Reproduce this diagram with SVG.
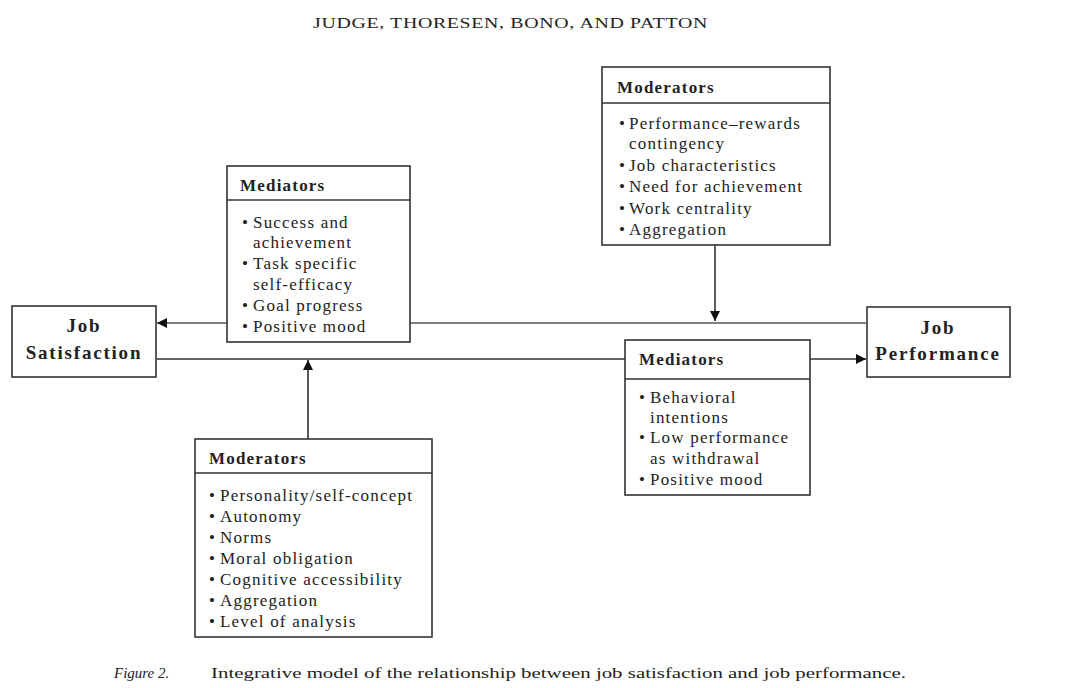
<svg xmlns="http://www.w3.org/2000/svg" width="1077" height="688" viewBox="0 0 1077 688">
  <defs>
    <marker id="arrow" viewBox="0 0 10 10" refX="10" refY="5" markerWidth="10" markerHeight="10" markerUnits="userSpaceOnUse" orient="auto">
      <path d="M0,0 L10,5 L0,10 z" fill="#111"/>
    </marker>
    <style>
      .box { fill: #fff; stroke: #333; stroke-width: 1.6; }
      .sep { stroke: #333; stroke-width: 1.4; }
      .link { fill: none; stroke: #333; stroke-width: 1.6; }
      .link.light { stroke: #555; stroke-width: 1.3; }
      text { font-family: "Liberation Serif", "Times New Roman", serif; fill: #222; }
      .title { font-size: 19px; font-weight: bold; letter-spacing: 1.8px; text-anchor: middle; }
      .head { font-size: 17px; font-weight: bold; letter-spacing: 1.2px; }
      .item { font-size: 17px; letter-spacing: 1.2px; }
      .running { font-size: 15px; letter-spacing: 0.5px; }
      .caption { font-size: 15px; }
    </style>
  </defs>

  <!-- running head -->
  <text class="running" x="313" y="28" textLength="395" lengthAdjust="spacingAndGlyphs">JUDGE, THORESEN, BONO, AND PATTON</text>

  <!-- connectors -->
  <g id="connectors">
    <!-- indirect path through the upper mediators -->
    <line class="link light" x1="227" y1="323" x2="157" y2="323" marker-end="url(#arrow)"/>
    <line class="link light" x1="410" y1="323" x2="866" y2="323"/>
    <!-- direct path through the lower mediators -->
    <line class="link" x1="157" y1="359" x2="625" y2="359"/>
    <line class="link" x1="810" y1="359" x2="866" y2="359" marker-end="url(#arrow)"/>
    <!-- moderator effects -->
    <line class="link" x1="715" y1="245" x2="715" y2="321" marker-end="url(#arrow)"/>
    <line class="link" x1="308" y1="439" x2="308" y2="360" marker-end="url(#arrow)"/>
  </g>

  <!-- Job Satisfaction -->
  <g id="job-satisfaction">
    <rect class="box" x="12" y="306" width="144" height="71"/>
    <text class="title" x="84" y="332">Job</text>
    <text class="title" x="84" y="359">Satisfaction</text>
  </g>

  <!-- Job Performance -->
  <g id="job-performance">
    <rect class="box" x="867" y="307" width="143" height="70"/>
    <text class="title" x="938" y="334">Job</text>
    <text class="title" x="938" y="360">Performance</text>
  </g>

  <!-- Mediators (satisfaction side) -->
  <g id="mediators-upper">
    <rect class="box" x="227" y="166" width="183" height="176"/>
    <line class="sep" x1="227" y1="200" x2="410" y2="200"/>
    <text class="head" x="240" y="191">Mediators</text>
    <text class="item" x="242" y="228">•</text><text class="item" x="253" y="228">Success and</text>
    <text class="item" x="253" y="248">achievement</text>
    <text class="item" x="242" y="269">•</text><text class="item" x="253" y="269">Task specific</text>
    <text class="item" x="253" y="290">self-efficacy</text>
    <text class="item" x="242" y="311">•</text><text class="item" x="253" y="311">Goal progress</text>
    <text class="item" x="242" y="332">•</text><text class="item" x="253" y="332">Positive mood</text>
  </g>

  <!-- Moderators (performance side, top) -->
  <g id="moderators-upper">
    <rect class="box" x="602" y="67" width="228" height="178"/>
    <line class="sep" x1="602" y1="103" x2="830" y2="103"/>
    <text class="head" x="617" y="93">Moderators</text>
    <text class="item" x="619" y="129">•</text><text class="item" x="629" y="129">Performance–rewards</text>
    <text class="item" x="629" y="149">contingency</text>
    <text class="item" x="619" y="171">•</text><text class="item" x="629" y="171">Job characteristics</text>
    <text class="item" x="619" y="192">•</text><text class="item" x="629" y="192">Need for achievement</text>
    <text class="item" x="619" y="214">•</text><text class="item" x="629" y="214">Work centrality</text>
    <text class="item" x="619" y="235">•</text><text class="item" x="629" y="235">Aggregation</text>
  </g>

  <!-- Mediators (performance side, bottom) -->
  <g id="mediators-lower">
    <rect class="box" x="625" y="340" width="185" height="155"/>
    <line class="sep" x1="625" y1="379" x2="810" y2="379"/>
    <text class="head" x="639" y="365">Mediators</text>
    <text class="item" x="639" y="403">•</text><text class="item" x="650" y="403">Behavioral</text>
    <text class="item" x="650" y="423">intentions</text>
    <text class="item" x="639" y="443">•</text><text class="item" x="650" y="443">Low performance</text>
    <text class="item" x="650" y="464">as withdrawal</text>
    <text class="item" x="639" y="485">•</text><text class="item" x="650" y="485">Positive mood</text>
  </g>

  <!-- Moderators (satisfaction side, bottom) -->
  <g id="moderators-lower">
    <rect class="box" x="195" y="439" width="237" height="198"/>
    <line class="sep" x1="195" y1="473" x2="432" y2="473"/>
    <text class="head" x="209" y="464">Moderators</text>
    <text class="item" x="209" y="501">•</text><text class="item" x="220" y="501">Personality/self-concept</text>
    <text class="item" x="209" y="522">•</text><text class="item" x="220" y="522">Autonomy</text>
    <text class="item" x="209" y="543">•</text><text class="item" x="220" y="543">Norms</text>
    <text class="item" x="209" y="564">•</text><text class="item" x="220" y="564">Moral obligation</text>
    <text class="item" x="209" y="585">•</text><text class="item" x="220" y="585">Cognitive accessibility</text>
    <text class="item" x="209" y="606">•</text><text class="item" x="220" y="606">Aggregation</text>
    <text class="item" x="209" y="627">•</text><text class="item" x="220" y="627">Level of analysis</text>
  </g>

  <!-- figure caption -->
  <text class="caption" x="114" y="678"><tspan font-style="italic">Figure 2.</tspan></text>
  <text class="caption" x="211" y="678" textLength="695" lengthAdjust="spacingAndGlyphs">Integrative model of the relationship between job satisfaction and job performance.</text>
</svg>
